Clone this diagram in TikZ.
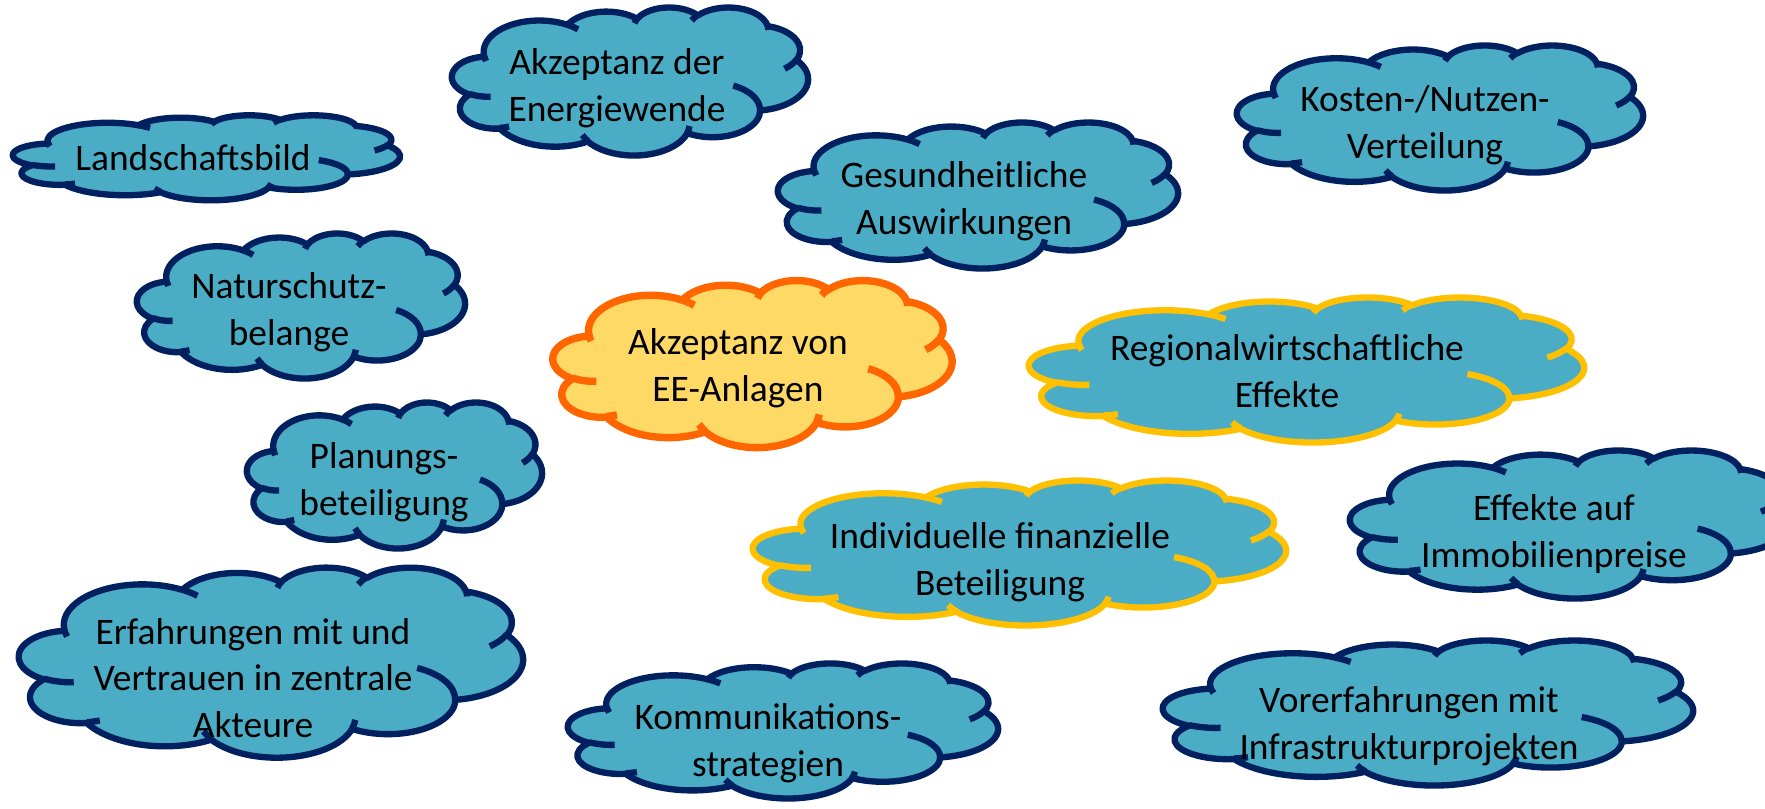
\documentclass[tikz,border=0pt]{standalone}
\usepackage{fontspec}
\setmainfont{Carlito}

\definecolor{cloudfill}{RGB}{75,172,198}
\definecolor{cloudnavy}{RGB}{0,32,96}
\definecolor{cloudgold}{RGB}{255,192,0}
\definecolor{corefill}{RGB}{255,217,102}
\definecolor{coreorange}{RGB}{255,102,0}

% arcs of the cloud outline, angles turned into ellipse parameters
\newcommand\setcloudarc[5]{%
  \pgfmathsetmacro\tmpts{atan2(#2*sin(#4),#3*cos(#4))}%
  \pgfmathsetmacro\tmpte{atan2(#2*sin(#4+#5),#3*cos(#4+#5))}%
  \pgfmathsetmacro\tmpte{\tmpte<\tmpts ? \tmpte+360 : \tmpte}%
  \expandafter\xdef\csname cloudarc#1\endcsname{arc[start angle=\tmpts, end angle=\tmpte, x radius=#2, y radius=#3]}%
}
\setcloudarc{A}{67.53}{91.90}{-190.4875}{123.7805}
\setcloudarc{B}{53.33}{72.67}{-144.1024}{89.9452}
\setcloudarc{C}{43.65}{59.45}{-145.8079}{99.7230}
\setcloudarc{D}{48.57}{65.95}{-130.9861}{117.2417}
\setcloudarc{E}{53.33}{72.73}{-78.7089}{109.0269}
\setcloudarc{F}{67.75}{92.20}{-46.2673}{130.2690}
\setcloudarc{G}{57.85}{78.67}{0.6250}{114.0333}
\setcloudarc{H}{67.52}{92.15}{22.4516}{115.1726}
\setcloudarc{I}{77.20}{105.43}{66.2426}{75.7110}
\setcloudarc{J}{43.60}{59.18}{-274.9421}{146.7356}
\setcloudarc{K}{43.45}{59.45}{-246.8285}{152.5269}
\setcloudarc{a}{43.45}{59.45}{86.742}{26.4295}
\setcloudarc{b}{43.60}{59.18}{73.6105}{11.4475}
\setcloudarc{c}{67.52}{92.15}{137.6242}{14.0811}
\setcloudarc{d}{67.52}{92.15}{6.4533}{15.9984}
\setcloudarc{e}{57.85}{78.67}{-70.2924}{70.9174}
\setcloudarc{f}{53.33}{72.73}{30.3180}{27.7515}
\setcloudarc{g}{48.57}{65.95}{-13.7443}{14.8589}
\setcloudarc{h}{48.57}{65.95}{-149.1815}{18.1954}
\setcloudarc{i}{43.65}{59.45}{-163.4943}{17.6864}
\setcloudarc{j}{67.53}{91.90}{-66.7070}{12.3194}
\setcloudarc{k}{67.53}{91.90}{157.6544}{11.8582}

\newcommand\cloudoutline{(39.00,143.70) \cloudarcA \cloudarcB \cloudarcC \cloudarcD
  \cloudarcE \cloudarcF \cloudarcG \cloudarcH \cloudarcI \cloudarcJ \cloudarcK -- cycle}
\newcommand\cloudcreases{(46.93,261.77) \cloudarca (69.28,348.99) \cloudarcb
  (164.78,390.90) \cloudarcc (288.27,347.51) \cloudarcd (341.29,229.54) \cloudarce
  (417.98,153.54) \cloudarcf (383.24,54.26) \cloudarcg (290.78,39.52) \cloudarch
  (221.41,47.20) \cloudarci (140.00,51.92) \cloudarcj (41.27,157.89) \cloudarck}

\tikzset{
  cloudline/.style={line width=1.8pt, line join=round},
  bluecloud/.style={draw=cloudnavy, fill=cloudfill},
  goldcloud/.style={draw=cloudgold, fill=cloudfill},
  corecloud/.style={draw=coreorange, fill=corefill, line width=2.1pt},
  cloudtext/.style={align=center, inner sep=0pt, font=\fontsize{10.65}{13.2}\selectfont}
}

% left, top, width, height, look
\newcommand\cloudshape[5]{%
  \begin{scope}[shift={(#1,#2)}, xscale=#3/432, yscale=#4/432]
    \path[cloudline, #5] \cloudoutline;
    \path[cloudline, #5, fill=none] \cloudcreases;
  \end{scope}
}

\begin{document}
\begin{tikzpicture}[y={-0.01cm}, x={0.01cm}]
  \useasboundingbox (0,0) rectangle (1765,808);
  \cloudshape{452}{7}{356}{148}{bluecloud}
  \cloudshape{13}{115}{387}{85}{bluecloud}
  \cloudshape{1237}{45}{406}{145}{bluecloud}
  \cloudshape{778}{122}{400}{146}{bluecloud}
  \cloudshape{137}{233}{328}{145}{bluecloud}
  \cloudshape{553}{280}{399}{167}{corecloud}
  \cloudshape{1029}{297}{555}{145}{goldcloud}
  \cloudshape{247}{402}{295}{146}{bluecloud}
  \cloudshape{753}{480}{533}{145}{goldcloud}
  \cloudshape{1350}{450}{440}{148}{bluecloud}
  \cloudshape{19}{567}{504}{190}{bluecloud}
  \cloudshape{568}{663}{430}{135}{bluecloud}
  \cloudshape{1163}{640}{530}{145}{bluecloud}

  \node[cloudtext] (energiewende) at (617,88) {Akzeptanz der\\Energiewende};
  \node[cloudtext] (landschaft) at (193,158) {Landschaftsbild};
  \node[cloudtext] (kosten) at (1425,125) {Kosten-/Nutzen-\\Verteilung};
  \node[cloudtext] (gesundheit) at (964,201) {Gesundheitliche\\Auswirkungen};
  \node[cloudtext] (naturschutz) at (289,312) {Naturschutz-\\belange};
  \node[cloudtext] (akzeptanz) at (738,368) {Akzeptanz von\\EE-Anlagen};
  \node[cloudtext] (regional) at (1287,371) {Regionalwirtschaftliche\\Effekte};
  \node[cloudtext] (planung) at (384,482) {Planungs-\\beteiligung};
  \node[cloudtext] (finanziell) at (1000,562) {Individuelle finanzielle\\Beteiligung};
  \node[cloudtext] (immobilien) at (1554,534) {Effekte auf\\Immobilienpreise};
  \node[cloudtext] (erfahrung) at (253,678) {Erfahrungen mit und\\Vertrauen in zentrale\\Akteure};
  \node[cloudtext] (kommunikation) at (768,743) {Kommunikations-\\strategien};
  \node[cloudtext] (infrastruktur) at (1409,726) {Vorerfahrungen mit\\Infrastrukturprojekten};
\end{tikzpicture}
\end{document}
